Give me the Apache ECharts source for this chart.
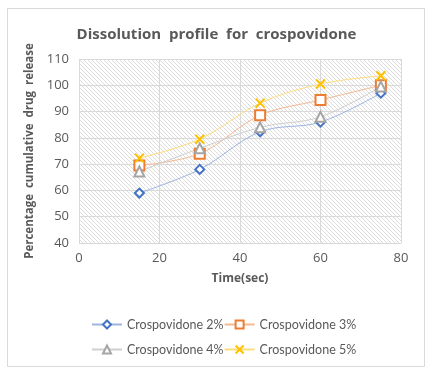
<!DOCTYPE html>
<html><head><meta charset="utf-8">
<script src="https://cdn.jsdelivr.net/npm/echarts@6/dist/echarts.min.js"></script>
<style>html,body{margin:0;padding:0;background:#fff}#c{width:433px;height:374px}</style>
</head><body><div id="c"></div>
<script>
const times = [15, 30, 45, 60, 75];
const seriesNames = ['Crospovidone 2%', 'Crospovidone 3%', 'Crospovidone 4%', 'Crospovidone 5%'];
const cp2 = [59, 68, 82.3, 86, 97];
const cp3 = [69.5, 74, 88.6, 94.4, 100];
const cp4 = [67.2, 76, 84, 88, 99.5];
const cp5 = [72.3, 79.5, 93.2, 100.5, 103.6];
const yTicks = [40, 50, 60, 70, 80, 90, 100, 110];
const xTicks = [0, 20, 40, 60, 80];

// hatch pattern
const tile = document.createElement('canvas');
tile.width = 4; tile.height = 4;
const tc = tile.getContext('2d');
tc.fillStyle = '#ffffff'; tc.fillRect(0,0,4,4);
tc.fillStyle = '#dcdcdc';
for (let i = 0; i < 4; i++) tc.fillRect(i, i, 1, 1);

const chart = echarts.init(document.getElementById('c'));
const xSym = 'path://M0,0L10,10M10,0L0,10';
const mk = (name, data, color, lineColor, symbol, size) => ({
  name, type: 'line', smooth: 0.35,
  data: times.map((t, i) => [t, data[i]]),
  symbol, symbolSize: size,
  itemStyle: { color: symbol.startsWith('path') ? color : '#fff', borderColor: color, borderWidth: 2 },
  lineStyle: { color: lineColor, width: 1 },
  emphasis: { disabled: true }
});
const legTxt = { color: '#595959', fontSize: 12.5, fontFamily: 'Lato' };
chart.setOption({
  animation: false,
  graphic: [{ type: 'rect', shape: { x: 7.5, y: 8.5, width: 417, height: 358 }, style: { fill: 'none', stroke: '#d9d9d9', lineWidth: 1 } }],
  title: { text: 'Dissolution  profile  for  crospovidone', left: 'center', top: 22,
    textStyle: { color: '#595959', fontSize: 15, fontWeight: 'bold', fontFamily: 'Open Sans' } },
  grid: { left: 79, right: 32, top: 59, bottom: 131, show: true, borderWidth: 0,
    backgroundColor: { image: tile, repeat: 'repeat' } },
  xAxis: { type: 'value', min: 0, max: 80, interval: 20,
    name: 'Time(sec)', nameLocation: 'middle', nameGap: 30,
    nameTextStyle: { color: '#595959', fontSize: 12, fontWeight: 'bold', fontFamily: 'Open Sans' },
    axisLine: { show: false }, axisTick: { show: false },
    axisLabel: { color: '#595959', fontSize: 13, fontFamily: 'Open Sans', margin: 9,
      formatter: v => xTicks.includes(v) ? String(v) : '' },
    splitLine: { show: true, lineStyle: { color: '#d9d9d9', width: 1 } } },
  yAxis: { type: 'value', min: 40, max: 110, interval: 10,
    name: 'Percentage  cumulative  drug  release', nameLocation: 'middle', nameGap: 26,
    nameTextStyle: { color: '#595959', fontSize: 11.5, fontWeight: 'bold', fontFamily: 'Open Sans' },
    axisLine: { show: false }, axisTick: { show: false },
    axisLabel: { color: '#595959', fontSize: 13, fontFamily: 'Open Sans', margin: 10,
      formatter: v => yTicks.includes(v) ? String(v) : '' },
    splitLine: { show: true, lineStyle: { color: '#d9d9d9', width: 1 } } },
  legend: [
    { data: [seriesNames[0], seriesNames[1]], left: 86, top: 313, itemWidth: 30, itemHeight: 10, itemGap: 0, textStyle: legTxt },
    { data: [seriesNames[2], seriesNames[3]], left: 86, top: 338, itemWidth: 30, itemHeight: 10, itemGap: 0, textStyle: legTxt }
  ],
  series: [
    mk(seriesNames[0], cp2, '#4472C4', '#9db4e0', 'diamond', 9),
    mk(seriesNames[1], cp3, '#ED7D31', '#f5b992', 'rect', 10),
    mk(seriesNames[2], cp4, '#A5A5A5', '#cfcfcf', 'triangle', 10),
    mk(seriesNames[3], cp5, '#FFC000', '#ffdc7a', xSym, 9)
  ]
});
</script></body></html>
